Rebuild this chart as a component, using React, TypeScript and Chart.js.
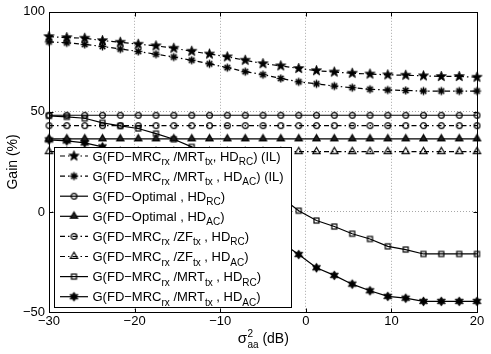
import React, { useEffect, useRef } from "react";
import { Chart, registerables } from "chart.js";

Chart.register(...registerables);

// ---------- data ----------
const xValues = [
  -30, -27.92, -25.83, -23.75, -21.67, -19.58, -17.5, -15.42, -13.33, -11.25,
  -9.17, -7.08, -5, -2.92, -0.83, 1.25, 3.33, 5.42, 7.5, 9.58, 11.67, 13.75,
  15.83, 17.92, 20,
];
const ilRC = [
  87.6, 87.1, 86.8, 85.6, 84.8, 83.8, 83.0, 81.8, 80.3, 78.9, 77.5, 75.8, 74.1,
  73.0, 71.7, 70.6, 69.9, 69.3, 68.9, 68.5, 68.3, 68.0, 67.7, 67.7, 67.3,
];
const ilAC = [
  85.0, 84.5, 83.7, 82.7, 81.4, 80.2, 78.8, 77.4, 75.8, 74.0, 72.1, 70.1, 68.6,
  66.7, 65.0, 64.0, 62.9, 62.1, 61.3, 60.9, 60.7, 60.4, 60.4, 60.4, 60.4,
];
const optRC = [
  48.3, 48.3, 48.3, 48.3, 48.3, 48.3, 48.3, 48.3, 48.3, 48.3, 48.3, 48.3, 48.3,
  48.3, 48.3, 48.3, 48.3, 48.3, 48.3, 48.3, 48.3, 48.3, 48.3, 48.3, 48.3,
];
const optAC = [
  36.5, 36.5, 36.5, 36.5, 36.5, 36.5, 36.5, 36.5, 36.5, 36.5, 36.5, 36.5, 36.5,
  36.5, 36.5, 36.5, 36.5, 36.5, 36.5, 36.5, 36.5, 36.5, 36.5, 36.5, 36.5,
];
const zfRC = [
  43.1, 43.1, 43.1, 43.1, 43.1, 43.1, 43.1, 43.1, 43.1, 43.1, 43.1, 43.1, 43.1,
  43.1, 43.1, 43.1, 43.1, 43.1, 43.1, 43.1, 43.1, 43.1, 43.1, 43.1, 43.1,
];
const zfAC = [
  30.1, 30.1, 30.1, 30.1, 30.1, 30.1, 30.1, 30.1, 30.1, 30.1, 30.1, 30.1, 30.1,
  30.1, 30.1, 30.1, 30.1, 30.1, 30.1, 30.1, 30.1, 30.1, 30.1, 30.1, 30.1,
];
const mrtRC = [
  48.0, 47.5, 46.8, 44.5, 43.0, 41.7, 39.1, 36.3, 32.5, 27.5, 22.5, 17.5, 12.5,
  7.5, 0.6, -4.3, -7.3, -10.9, -13.5, -17.2, -18.8, -21.0, -21.0, -21.0, -21.0,
];
const mrtAC = [
  36.0, 35.5, 34.5, 32.5, 29.5, 26.0, 22.0, 17.5, 13.0, 8.0, 3.0, -2.5, -8.5,
  -15.0, -21.3, -27.9, -31.7, -36.1, -39.4, -42.2, -43.1, -44.7, -44.7, -44.7,
  -44.7,
];
const legendLabels = [
  "G(FD\u2212MRC_{rx} /MRT_{tx}, HD_{RC}) (IL)",
  "G(FD\u2212MRC_{rx} /MRT_{tx} , HD_{AC}) (IL)",
  "G(FD\u2212Optimal , HD_{RC})",
  "G(FD\u2212Optimal , HD_{AC})",
  "G(FD\u2212MRC_{rx} /ZF_{tx} , HD_{RC})",
  "G(FD\u2212MRC_{rx} /ZF_{tx} , HD_{AC})",
  "G(FD\u2212MRC_{rx} /MRT_{tx} , HD_{RC})",
  "G(FD\u2212MRC_{rx} /MRT_{tx} , HD_{AC})",
];
const xTicks = [-30, -20, -10, 0, 10, 20];
const yTicks = [-50, 0, 50, 100];
const yTitle = "Gain (%)";
const xTitleMain = "\u03C3";
const xTitleSup = "2";
const xTitleSub = "aa";
const xTitleUnit = " (dB)";

const FONT = '"Liberation Sans", Arial, Helvetica, sans-serif';
const DASHDOT = [5, 3, 1.5, 3];

// ---------- markers ----------
function makeMarker(kind: string): HTMLCanvasElement {
  const size = 15;
  const c = document.createElement("canvas");
  c.width = size;
  c.height = size;
  const ctx = c.getContext("2d")!;
  const cx = size / 2;
  const cy = size / 2;
  ctx.strokeStyle = "#000";
  ctx.fillStyle = "#000";
  ctx.lineWidth = 1.2;
  const star = (n: number, R: number, r: number) => {
    ctx.beginPath();
    for (let i = 0; i < n * 2; i++) {
      const ang = -Math.PI / 2 + (i * Math.PI) / n;
      const rad = i % 2 === 0 ? R : r;
      const px = cx + rad * Math.cos(ang);
      const py = cy + rad * Math.sin(ang);
      if (i === 0) ctx.moveTo(px, py);
      else ctx.lineTo(px, py);
    }
    ctx.closePath();
    ctx.fill();
    ctx.lineWidth = 0.8;
    ctx.stroke();
  };
  switch (kind) {
    case "pentagram":
      star(5, 5.3, 2.2);
      break;
    case "hexagram":
      star(6, 4.6, 2.6);
      break;
    case "asterisk": {
      ctx.lineWidth = 1.5;
      const r = 4;
      ctx.beginPath();
      for (let i = 0; i < 4; i++) {
        const a = (i * Math.PI) / 4;
        ctx.moveTo(cx - r * Math.cos(a), cy - r * Math.sin(a));
        ctx.lineTo(cx + r * Math.cos(a), cy + r * Math.sin(a));
      }
      ctx.stroke();
      break;
    }
    case "circle":
      ctx.beginPath();
      ctx.arc(cx, cy, 2.9, 0, Math.PI * 2);
      ctx.stroke();
      break;
    case "triFilled":
    case "triOpen":
      ctx.beginPath();
      ctx.moveTo(cx, cy - 4.3);
      ctx.lineTo(cx - 3.6, cy + 1.8);
      ctx.lineTo(cx + 3.6, cy + 1.8);
      ctx.closePath();
      if (kind === "triFilled") {
        ctx.fillStyle = "#222";
        ctx.fill();
      }
      ctx.stroke();
      break;
    case "square":
      ctx.strokeRect(cx - 2.5, cy - 2.5, 5, 5);
      break;
  }
  return c;
}

function drawRich(
  ctx: CanvasRenderingContext2D,
  text: string,
  x: number,
  y: number,
  size: number,
  subSize: number,
  subShift: number
) {
  const parts = text.split(/(_\{[^}]*\})/);
  let cx = x;
  for (const p of parts) {
    if (!p) continue;
    if (p.startsWith("_{")) {
      const t = p.slice(2, -1);
      ctx.font = `${subSize}px ${FONT}`;
      ctx.fillText(t, cx, y + subShift);
      cx += ctx.measureText(t).width;
    } else {
      ctx.font = `${size}px ${FONT}`;
      ctx.fillText(p, cx, y);
      cx += ctx.measureText(p).width;
    }
  }
}

export default function App() {
  const ref = useRef<HTMLCanvasElement>(null);

  useEffect(() => {
    const canvas = ref.current!;
    const mk: Record<string, HTMLCanvasElement> = {
      pentagram: makeMarker("pentagram"),
      asterisk: makeMarker("asterisk"),
      circle: makeMarker("circle"),
      triFilled: makeMarker("triFilled"),
      triOpen: makeMarker("triOpen"),
      square: makeMarker("square"),
      hexagram: makeMarker("hexagram"),
    };
    const series = [
      { values: ilRC, marker: "pentagram", dash: DASHDOT },
      { values: ilAC, marker: "asterisk", dash: DASHDOT },
      { values: optRC, marker: "circle", dash: [] as number[] },
      { values: optAC, marker: "triFilled", dash: [] as number[] },
      { values: zfRC, marker: "circle", dash: DASHDOT },
      { values: zfAC, marker: "triOpen", dash: DASHDOT },
      { values: mrtRC, marker: "square", dash: [] as number[] },
      { values: mrtAC, marker: "hexagram", dash: [] as number[] },
    ];

    const datasets = series.map((s, i) => ({
      label: legendLabels[i],
      data: xValues.map((x, j) => ({ x, y: s.values[j] })),
      borderColor: "#000",
      backgroundColor: "#000",
      borderWidth: 1.2,
      borderDash: s.dash,
      pointStyle: mk[s.marker] as any,
      pointRadius: 4,
      pointHoverRadius: 4,
      fill: false,
      tension: 0,
      clip: false as any,
    }));

    const decor = {
      id: "decor",
      afterDatasetsDraw(chart: any) {
        const ctx: CanvasRenderingContext2D = chart.ctx;
        ctx.save();
        // legend box
        const bx = 54.5,
          by = 147.5,
          bw = 237,
          bh = 160;
        ctx.setLineDash([]);
        ctx.fillStyle = "#fff";
        ctx.fillRect(bx, by, bw, bh);
        ctx.strokeStyle = "#000";
        ctx.lineWidth = 1;
        ctx.strokeRect(bx, by, bw, bh);
        series.forEach((s, i) => {
          const yRow = 156 + i * 20.1;
          ctx.setLineDash(s.dash);
          ctx.strokeStyle = "#000";
          ctx.lineWidth = 1.2;
          ctx.beginPath();
          ctx.moveTo(60, yRow);
          ctx.lineTo(88, yRow);
          ctx.stroke();
          ctx.setLineDash([]);
          const img = mk[s.marker];
          ctx.drawImage(img, 74 - img.width / 2, yRow - img.height / 2);
          ctx.fillStyle = "#000";
          ctx.textBaseline = "alphabetic";
          ctx.textAlign = "left";
          drawRich(ctx, legendLabels[i], 92.5, yRow + 4.5, 13, 10, 4.5);
        });
        ctx.restore();
      },
      afterDraw(chart: any) {
        const ctx: CanvasRenderingContext2D = chart.ctx;
        const a = chart.chartArea;
        const xs = chart.scales.x;
        const ys = chart.scales.y;
        ctx.save();
        ctx.setLineDash([]);
        ctx.strokeStyle = "#000";
        ctx.lineWidth = 1;
        const L = Math.round(a.left) + 0.5;
        const R = Math.round(a.right) + 0.5;
        const T = Math.round(a.top) + 0.5;
        const B = Math.round(a.bottom) + 0.5;
        ctx.strokeRect(L, T, R - L, B - T);
        ctx.beginPath();
        const tl = 4;
        xTicks.forEach((v) => {
          const px = Math.round(xs.getPixelForValue(v)) + 0.5;
          ctx.moveTo(px, B);
          ctx.lineTo(px, B - tl);
          ctx.moveTo(px, T);
          ctx.lineTo(px, T + tl);
        });
        yTicks.forEach((v) => {
          const py = Math.round(ys.getPixelForValue(v)) + 0.5;
          ctx.moveTo(L, py);
          ctx.lineTo(L + tl, py);
          ctx.moveTo(R, py);
          ctx.lineTo(R - tl, py);
        });
        ctx.stroke();

        // y title
        ctx.fillStyle = "#000";
        ctx.save();
        ctx.translate(13, (a.top + a.bottom) / 2);
        ctx.rotate(-Math.PI / 2);
        ctx.font = `14px ${FONT}`;
        ctx.textAlign = "center";
        ctx.textBaseline = "middle";
        ctx.fillText(yTitle, 0, 0);
        ctx.restore();

        // x title
        ctx.textAlign = "left";
        ctx.textBaseline = "alphabetic";
        ctx.font = `15px ${FONT}`;
        const wMain = ctx.measureText(xTitleMain).width;
        ctx.font = `14px ${FONT}`;
        const wUnit = ctx.measureText(xTitleUnit).width;
        ctx.font = `10px ${FONT}`;
        const wSup = ctx.measureText(xTitleSup).width;
        const wSub = ctx.measureText(xTitleSub).width;
        const total = wMain + Math.max(wSup, wSub) + wUnit;
        const base = 343;
        let cx = (a.left + a.right) / 2 - total / 2;
        ctx.font = `15px ${FONT}`;
        ctx.fillText(xTitleMain, cx, base);
        cx += wMain + 0.5;
        ctx.font = `10px ${FONT}`;
        ctx.fillText(xTitleSup, cx, base - 6);
        ctx.fillText(xTitleSub, cx, base + 5);
        cx += Math.max(wSup, wSub);
        ctx.font = `14px ${FONT}`;
        ctx.fillText(xTitleUnit, cx, base);
        ctx.restore();
      },
    };

    const gridColor = (c: any) => {
      const v = c.tick ? c.tick.value : null;
      const sc = c.scale;
      if (v === null || v === sc.min || v === sc.max) return "rgba(0,0,0,0)";
      return "#a8a8a8";
    };
    const fmt = (v: any) => String(v).replace("-", "\u2212");

    const chart = new Chart(canvas, {
      type: "line",
      data: { datasets: datasets as any },
      options: {
        animation: false,
        responsive: false,
        devicePixelRatio: 1,
        events: [],
        layout: { padding: { left: 0, top: 10, right: 14, bottom: 0 } },
        plugins: {
          legend: { display: false },
          tooltip: { enabled: false },
          title: { display: false },
        },
        scales: {
          x: {
            type: "linear",
            min: xTicks[0],
            max: xTicks[xTicks.length - 1],
            afterBuildTicks: (s: any) => {
              s.ticks = xTicks.map((v) => ({ value: v }));
            },
            afterFit: (s: any) => {
              s.height = 42;
            },
            grid: { color: gridColor, lineWidth: 1, drawTicks: false },
            border: { display: false, dash: [1, 2] },
            ticks: {
              color: "#000",
              font: { family: FONT, size: 13 },
              padding: 2,
              maxRotation: 0,
              autoSkip: false,
              callback: fmt,
            },
          },
          y: {
            type: "linear",
            min: yTicks[0],
            max: yTicks[yTicks.length - 1],
            afterBuildTicks: (s: any) => {
              s.ticks = yTicks.map((v) => ({ value: v }));
            },
            afterFit: (s: any) => {
              s.width = 49;
            },
            grid: { color: gridColor, lineWidth: 1, drawTicks: false },
            border: { display: false, dash: [1, 2] },
            ticks: {
              color: "#000",
              font: { family: FONT, size: 13 },
              padding: 4,
              autoSkip: false,
              callback: fmt,
            },
          },
        },
      },
      plugins: [decor as any],
    });
    return () => chart.destroy();
  }, []);

  return (
    <div
      style={{
        position: "fixed",
        left: 0,
        top: 0,
        width: 491,
        height: 354,
        background: "#fff",
      }}
    >
      <canvas
        ref={ref}
        width={491}
        height={354}
        style={{ display: "block", width: 491, height: 354 }}
      />
    </div>
  );
}
